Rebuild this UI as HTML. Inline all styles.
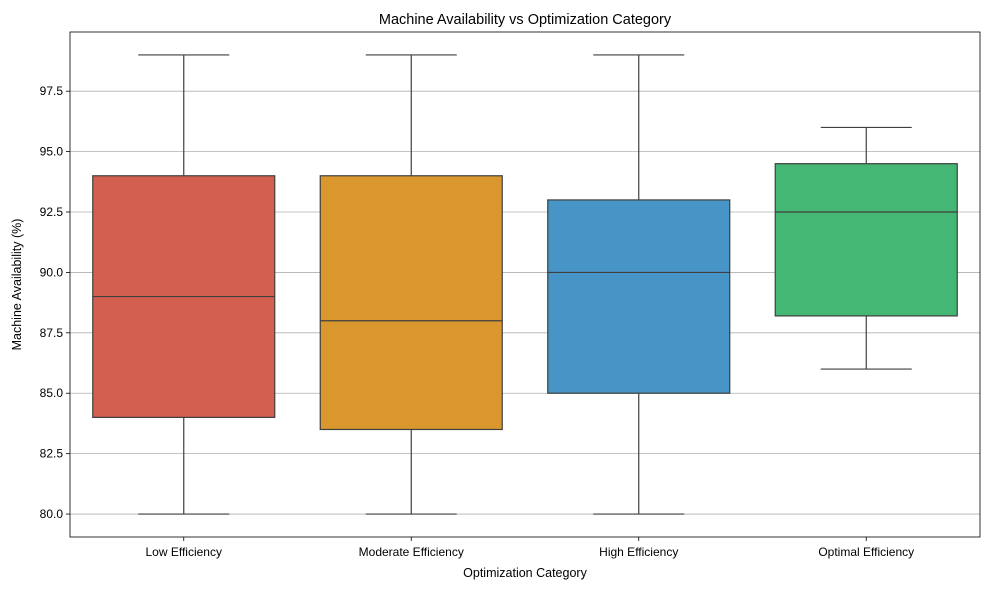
<!DOCTYPE html>
<html><head><meta charset="utf-8"><style>
body{margin:0;background:#fff;font-family:"Liberation Sans","DejaVu Sans",sans-serif;}
</style></head><body>
<svg id="chart" width="989" height="590" xmlns="http://www.w3.org/2000/svg"></svg>
<script>
const categories=["Low Efficiency","Moderate Efficiency","High Efficiency","Optimal Efficiency"];
const mins=[80,80,80,86];
const q1s=[84,83.5,85,88.2];
const medians=[89,88,90,92.5];
const q3s=[94,94,93,94.5];
const maxs=[99,99,99,96];
const colors=["#d35f50","#d9972e","#4794c6","#43b773"];
const yTicks=[80,82.5,85,87.5,90,92.5,95,97.5];
const L=70,R=980,T=32,B=537,yMin=79.05,yMax=99.95;
const ns="http://www.w3.org/2000/svg";
const svg=document.getElementById('chart');
function y(v){return B-(v-yMin)/(yMax-yMin)*(B-T);}
const band=(R-L)/categories.length;
function x(i){return L+band*(i+0.5);}
function mk(tag,attrs,parent){const e=document.createElementNS(ns,tag);for(const k in attrs)e.setAttribute(k,attrs[k]);(parent||svg).appendChild(e);return e;}
function txt(s,attrs){const e=mk('text',attrs);e.textContent=s;return e;}
yTicks.forEach(v=>{
  const g=mk('line',{x1:L,x2:R,y1:y(v),y2:y(v),stroke:'#b0b0b0','stroke-width':0.8});
  
  
  mk('line',{x1:L-4,x2:L,y1:y(v),y2:y(v),stroke:'#000','stroke-width':0.8});
  const t=txt(v.toFixed(1),{x:L-7,y:y(v)+4,'text-anchor':'end','font-size':12,fill:'#000'});
  
  
});
categories.forEach((c,i)=>{
  const cx=x(i),w=band*0.8,hw=w/4;
  const g=mk('g',{});
  
  
  const st={stroke:'#3f3f3f','stroke-width':1.2};
  mk('line',Object.assign({x1:cx,x2:cx,y1:y(q3s[i]),y2:y(maxs[i])},st),g);
  mk('line',Object.assign({x1:cx,x2:cx,y1:y(q1s[i]),y2:y(mins[i])},st),g);
  mk('line',Object.assign({x1:cx-hw,x2:cx+hw,y1:y(maxs[i]),y2:y(maxs[i])},st),g);
  mk('line',Object.assign({x1:cx-hw,x2:cx+hw,y1:y(mins[i]),y2:y(mins[i])},st),g);
  mk('rect',Object.assign({x:cx-w/2,y:y(q3s[i]),width:w,height:y(q1s[i])-y(q3s[i]),fill:colors[i]},st),g);
  mk('line',Object.assign({x1:cx-w/2,x2:cx+w/2,y1:y(medians[i]),y2:y(medians[i])},st),g);
  mk('line',{x1:cx,x2:cx,y1:B,y2:B+4,stroke:'#000','stroke-width':0.8});
  const t=txt(c,{x:cx,y:B+19,'text-anchor':'middle','font-size':12,fill:'#000'});
  
  
});
const fr=mk('rect',{x:L,y:T,width:R-L,height:B-T,fill:'none',stroke:'#000','stroke-width':0.8});


const ti=txt('Machine Availability vs Optimization Category',{x:(L+R)/2,y:24,'text-anchor':'middle','font-size':14.5,fill:'#000'});


const xl=txt('Optimization Category',{x:(L+R)/2,y:577,'text-anchor':'middle','font-size':12.5,fill:'#000'});


const yl=txt('Machine Availability (%)',{x:0,y:0,'text-anchor':'middle','font-size':12.5,fill:'#000',transform:'translate(21,'+((T+B)/2)+') rotate(-90)'});


</script>
</body></html>
